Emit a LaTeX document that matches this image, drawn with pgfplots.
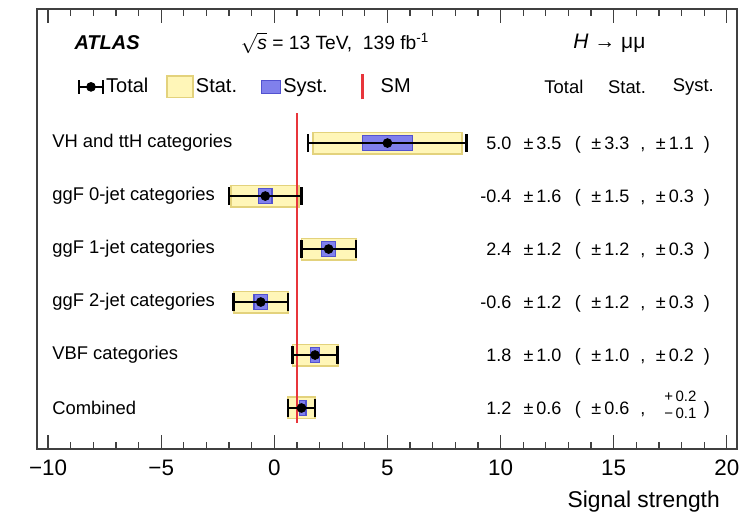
\documentclass[border=0pt]{standalone}
\usepackage{fontspec}
\setmainfont{Liberation Sans}
\usepackage{pgfplots}
\pgfplotsset{compat=1.18}
\usetikzlibrary{calc}
\definecolor{statfill}{HTML}{FFF6B8}
\definecolor{statdraw}{HTML}{E3D27C}
\definecolor{systfill}{HTML}{8080EC}
\definecolor{systdraw}{HTML}{5252D0}
\definecolor{smred}{HTML}{E8353B}
\newcommand{\fs}[1]{\fontsize{#1}{#1}\selectfont}
\pgfplotsset{statbox/.style={fill=statfill,draw=statdraw,line width=0.9pt,forget plot},
         systbox/.style={fill=systfill,draw=systdraw,line width=0.6pt,forget plot}}
\newcommand{\valrow}[5]{%
  \node[anchor=base east] at (axis cs:10.50,#1) {#2};
  \node[anchor=base west] at (axis cs:11.0,#1) {±\,#3};
  \node[anchor=base] at (axis cs:13.42,#1) {(};
  \node[anchor=base west] at (axis cs:14.0,#1) {±\,#4};
  \node[anchor=base] at (axis cs:16.29,#1) {,};
  \node[anchor=base west] at (axis cs:16.85,#1) {±\,#5};
  \node[anchor=base] at (axis cs:19.12,#1) {)};}
\begin{document}
\begin{tikzpicture}
\begin{axis}[name=ax, scale only axis, width=350pt, height=220pt,
  xmin=-10.49, xmax=20.45, ymin=0.226, ymax=8.53,
  xtick={-10,-5,0,5,10,15,20}, xticklabels={−10,−5,0,5,10,15,20},
  minor x tick num=4, ytick=\empty,
  major tick length=7pt, minor tick length=3.5pt,
  tick style={black!75, line width=0.6pt},
  axis line style={black!75, line width=0.7pt},
  tick label style={font=\fs{11.2}},
  xticklabel style={yshift=-2pt},
  xlabel={Signal strength},
  xlabel style={font=\fs{11.4}, at={(axis description cs:0.976,-0.134)}, anchor=base east, inner sep=0pt},
  clip=false,
  legend style={draw=none, fill=none, at={(axis description cs:0.0493,0.823)}, anchor=west,
    font=\fs{10},
    /tikz/column 2/.style={column sep=8pt},
    /tikz/column 4/.style={column sep=11pt},
    /tikz/column 6/.style={column sep=8.5pt},
    nodes={inner sep=1pt}},
  legend columns=-1, legend cell align=left,
]
\addlegendimage{legend image code/.code={
  \draw[black,line width=1.1pt] (0pt,0pt)--(12pt,0pt);
  \draw[black,line width=1.1pt] (0pt,-3.5pt)--(0pt,3.5pt) (12pt,-3.5pt)--(12pt,3.5pt);
  \fill[black] (6pt,0pt) circle (2.2pt);}}
\addlegendentry{Total}
\addlegendimage{legend image code/.code={\draw[fill=statfill,draw=statdraw,line width=0.8pt] (0pt,-5.3pt) rectangle (13pt,5.3pt);}}
\addlegendentry{Stat.}
\addlegendimage{legend image code/.code={\draw[fill=systfill,draw=systdraw,line width=0.6pt] (0pt,-3.3pt) rectangle (9.5pt,3.3pt);}}
\addlegendentry{Syst.}
\addlegendimage{legend image code/.code={\path[draw=none,fill=none] (0pt,0pt)--(16pt,0pt); \draw[smred,line width=1.3pt] (8pt,-6.2pt)--(8pt,6.2pt);}}
\addlegendentry{SM}

% stat boxes (central +- stat)
\addplot[statbox] coordinates {(1.7,5.8) (8.3,5.8) (8.3,6.2) (1.7,6.2)} --cycle;
\addplot[statbox] coordinates {(-1.9,4.8) (1.1,4.8) (1.1,5.2) (-1.9,5.2)} --cycle;
\addplot[statbox] coordinates {(1.2,3.8) (3.6,3.8) (3.6,4.2) (1.2,4.2)} --cycle;
\addplot[statbox] coordinates {(-1.8,2.8) (0.6,2.8) (0.6,3.2) (-1.8,3.2)} --cycle;
\addplot[statbox] coordinates {(0.8,1.8) (2.8,1.8) (2.8,2.2) (0.8,2.2)} --cycle;
\addplot[statbox] coordinates {(0.6,0.8) (1.8,0.8) (1.8,1.2) (0.6,1.2)} --cycle;
% syst boxes (central +- syst)
\addplot[systbox] coordinates {(3.9,5.86) (6.1,5.86) (6.1,6.14) (3.9,6.14)} --cycle;
\addplot[systbox] coordinates {(-0.7,4.86) (-0.1,4.86) (-0.1,5.14) (-0.7,5.14)} --cycle;
\addplot[systbox] coordinates {(2.1,3.86) (2.7,3.86) (2.7,4.14) (2.1,4.14)} --cycle;
\addplot[systbox] coordinates {(-0.9,2.86) (-0.3,2.86) (-0.3,3.14) (-0.9,3.14)} --cycle;
\addplot[systbox] coordinates {(1.6,1.86) (2.0,1.86) (2.0,2.14) (1.6,2.14)} --cycle;
\addplot[systbox] coordinates {(1.1,0.86) (1.4,0.86) (1.4,1.14) (1.1,1.14)} --cycle;
% SM line
\addplot[smred, line width=1.3pt, forget plot] coordinates {(1,0.72) (1,6.57)};
% total error bars
\addplot[black, only marks, mark=*, mark size=2.2pt, forget plot,
  error bars/.cd, x dir=both, x explicit,
  error bar style={line width=1.2pt},
  error mark options={line width=1.2pt, mark size=4.5pt, rotate=90}]
  coordinates {(5.0,6) +- (3.5,0) (-0.4,5) +- (1.6,0) (2.4,4) +- (1.2,0)
               (-0.6,3) +- (1.2,0) (1.8,2) +- (1.0,0) (1.2,1) +- (0.6,0)};

% header text
\node[anchor=west, inner sep=0pt, font=\bfseries\itshape\fs{10}] at (axis cs:-8.85,7.887) {ATLAS};
\node[anchor=west, inner sep=0pt, font=\fs{9.6}] at (axis cs:-1.5,7.887) {$\sqrt{\mbox{\textit{s}}}$ = 13 TeV,\ \ 139 fb\textsuperscript{-1}};
\node[anchor=west, inner sep=0pt, font=\fs{10.5}] at (axis cs:13.2,7.887) {\textit{H} → μμ};
\node[inner sep=0pt, font=\fs{9.2}] at (axis cs:12.80,7.057) {Total};
\node[inner sep=0pt, font=\fs{9.2}] at (axis cs:15.59,7.057) {Stat.};
\node[inner sep=0pt, font=\fs{9.2}] at (axis cs:18.52,7.057) {Syst.};
% category labels
\begin{scope}[every node/.style={anchor=west, inner sep=0pt, font=\fs{9.2}}]
\node at (axis cs:-9.83,6) {VH and ttH categories};
\node at (axis cs:-9.83,5) {ggF 0-jet categories};
\node at (axis cs:-9.83,4) {ggF 1-jet categories};
\node at (axis cs:-9.83,3) {ggF 2-jet categories};
\node at (axis cs:-9.83,2) {VBF categories};
\node at (axis cs:-9.83,1) {Combined};
\end{scope}
% values
\begin{scope}[every node/.style={inner sep=0pt, font=\fs{9}, yshift=-3.2pt}]
\valrow{6}{5.0}{3.5}{3.3}{1.1}
\valrow{5}{-0.4}{1.6}{1.5}{0.3}
\valrow{4}{2.4}{1.2}{1.2}{0.3}
\valrow{3}{-0.6}{1.2}{1.2}{0.3}
\valrow{2}{1.8}{1.0}{1.0}{0.2}
\node[anchor=base east] at (axis cs:10.50,1) {1.2};
\node[anchor=base west] at (axis cs:11.0,1) {±\,0.6};
\node[anchor=base] at (axis cs:13.42,1) {(};
\node[anchor=base west] at (axis cs:14.0,1) {±\,0.6};
\node[anchor=base] at (axis cs:16.29,1) {,};
\node[font=\fs{7.5}, yshift=3.2pt] at (axis cs:17.95,1.225) {+\,0.2};
\node[font=\fs{7.5}, yshift=3.2pt] at (axis cs:17.95,0.905) {−\,0.1};
\node[anchor=base] at (axis cs:19.12,1) {)};
\end{scope}
\end{axis}
\path ($(ax.south west)+(-18.5pt,-32pt)$) rectangle ($(ax.north east)+(7.5pt,4.5pt)$);
\end{tikzpicture}
\end{document}
